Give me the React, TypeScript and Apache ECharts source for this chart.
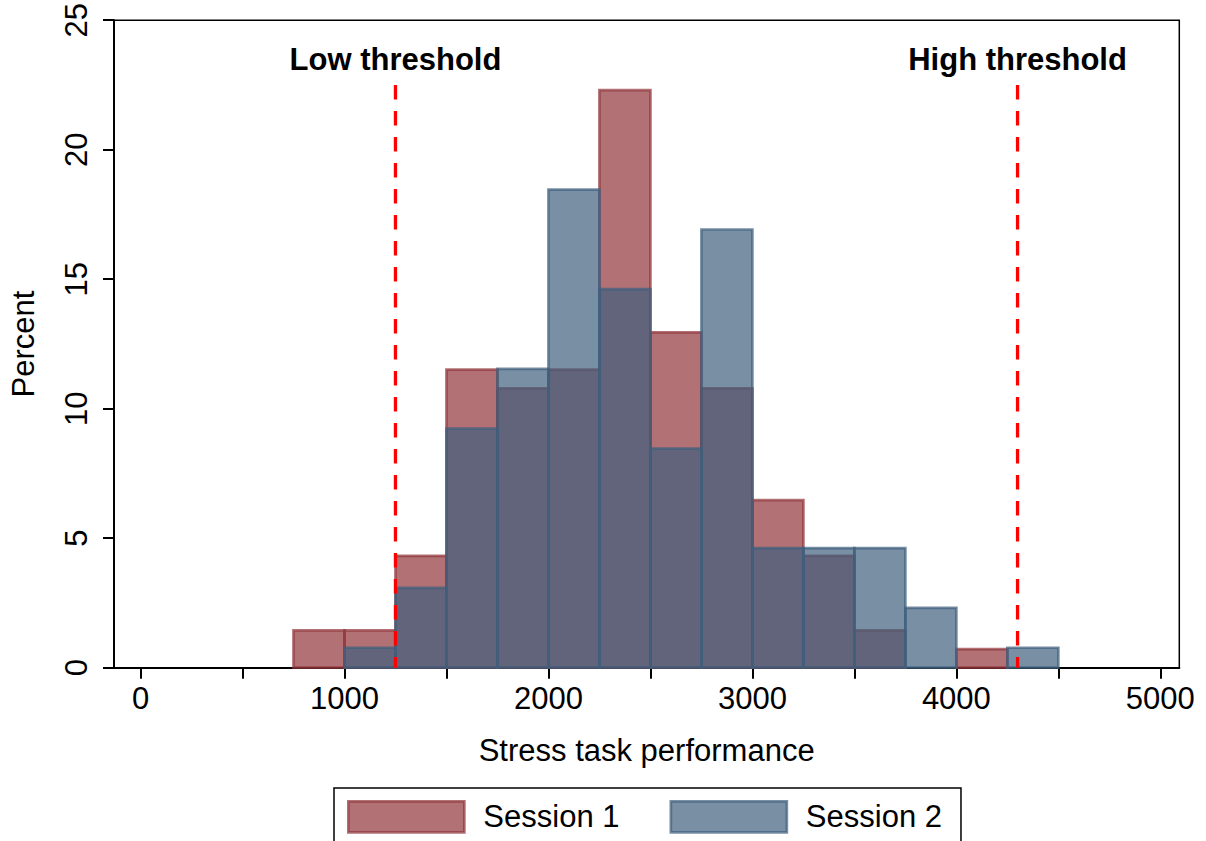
import React, { useEffect, useRef } from "react";
import * as echarts from "echarts";

// ---- data ----
const binStarts = [750, 1000, 1250, 1500, 1750, 2000, 2250, 2500, 2750, 3000, 3250, 3500, 3750, 4000, 4250];
const binWidth = 250;
const session1 = [1.44, 1.44, 4.32, 11.51, 10.79, 11.51, 22.3, 12.95, 10.79, 6.47, 4.32, 1.44, 0, 0.72, 0];
const session2 = [0, 0.77, 3.08, 9.23, 11.54, 18.46, 14.62, 8.46, 16.92, 4.62, 4.62, 4.62, 2.31, 0, 0.77];
const seriesNames = ["Session 1", "Session 2"];
const thresholds = [1250, 4300];
const thresholdLabels = ["Low threshold", "High threshold"];
const thresholdTop = 22.5;
const thresholdLabelY = 23.5;
const xTickValues = [0, 500, 1000, 1500, 2000, 2500, 3000, 3500, 4000, 4500, 5000];
const xLabelValues = [0, 1000, 2000, 3000, 4000, 5000];
const yTickValues = [0, 5, 10, 15, 20, 25];

const FONT = "'Liberation Sans', Arial, Helvetica, sans-serif";
const fills = ["rgba(144,53,59,0.7)", "rgba(62,95,125,0.7)"];
const strokes = ["rgba(144,53,59,0.7)", "rgba(62,95,125,0.7)"];
const BORDER = 2.7;

function histSeries(name: string, values: number[], idx: number) {
  return {
    name,
    type: "custom",
    data: binStarts.map((s, i) => [s, s + binWidth, values[i]]),
    encode: { x: [0, 1], y: 2 },
    itemStyle: { color: fills[idx], borderColor: strokes[idx], borderWidth: BORDER },
    silent: true,
    z: 2 + idx,
    renderItem: (params: any, api: any) => {
      const start = api.value(0);
      const end = api.value(1);
      const v = api.value(2);
      if (!v) return null;
      const p0 = api.coord([start, v]);
      const p1 = api.coord([end, 0]);
      return {
        type: "rect",
        shape: { x: p0[0], y: p0[1], width: p1[0] - p0[0], height: p1[1] - p0[1] },
        style: { fill: fills[idx], stroke: strokes[idx], lineWidth: BORDER },
      };
    },
  };
}

export default function App() {
  const ref = useRef<HTMLDivElement>(null);
  useEffect(() => {
    if (!ref.current) return;
    const chart = echarts.init(ref.current, undefined, { renderer: "svg" });
    const option: any = {
      animation: false,
      textStyle: { fontFamily: FONT, color: "#000" },
      grid: {
        left: 113.5,
        right: 26.7,
        top: 20,
        bottom: 173.3,
        show: true,
        borderColor: "#000",
        borderWidth: 1.5,
        backgroundColor: "transparent",
      },
      legend: {
        data: seriesNames.map((n, i) => ({
          name: n,
          icon: "rect",
          itemStyle: { color: fills[i], borderColor: strokes[i], borderWidth: BORDER },
        })),
        left: 334,
        top: 788,
        orient: "horizontal",
        padding: [12, 19, 12, 13],
        itemWidth: 116,
        itemHeight: 31,
        itemGap: 50,
        borderColor: "#000",
        borderWidth: 1.5,
        textStyle: { fontSize: 31, color: "#000", fontFamily: FONT, padding: [0, 0, 0, 14] },
        selectedMode: false,
      },
      xAxis: {
        type: "value",
        min: -130,
        max: 5093,
        name: "Stress task performance",
        nameLocation: "middle",
        nameGap: 67,
        nameTextStyle: { fontSize: 31, color: "#000", fontFamily: FONT },
        axisLine: { show: true, onZero: false, lineStyle: { color: "#000", width: 2 } },
        axisTick: { show: true, length: 11, lineStyle: { color: "#000", width: 2 }, customValues: xTickValues },
        axisLabel: {
          fontSize: 31,
          color: "#000",
          margin: 15,
          customValues: xLabelValues,
          fontFamily: FONT,
          formatter: (v: number) => String(v),
        },
        splitLine: { show: false },
      },
      yAxis: {
        type: "value",
        min: 0,
        max: 25,
        interval: 5,
        name: "Percent",
        nameLocation: "middle",
        nameGap: 75,
        nameTextStyle: { fontSize: 31, color: "#000", fontFamily: FONT },
        axisLine: { show: true, onZero: false, lineStyle: { color: "#000", width: 2 } },
        axisTick: { show: true, length: 11, lineStyle: { color: "#000", width: 2 }, customValues: yTickValues },
        axisLabel: {
          fontSize: 31,
          color: "#000",
          margin: 22,
          rotate: 90,
          fontFamily: FONT,
          customValues: yTickValues,
          formatter: (v: number) => String(v),
        },
        splitLine: { show: false },
      },
      series: [
        histSeries(seriesNames[0], session1, 0),
        histSeries(seriesNames[1], session2, 1),
        ...thresholds.map((t) => ({
          type: "line",
          data: [
            [t, thresholdTop],
            [t, 0],
          ],
          symbol: "none",
          silent: true,
          z: 5,
          lineStyle: { color: "#ff0000", width: 3.3, type: [14.5, 11.5] },
        })),
        {
          type: "scatter",
          data: thresholds.map((t, i) => ({ value: [t, thresholdLabelY], name: thresholdLabels[i] })),
          symbolSize: 1,
          silent: true,
          itemStyle: { color: "rgba(0,0,0,0)", opacity: 1 },
          label: {
            show: true,
            position: "inside",
            formatter: "{b}",
            fontSize: 31,
            fontWeight: "bold",
            color: "#000",
            opacity: 1,
            textBorderWidth: 0,
            fontFamily: FONT,
          },
        },
      ],
    };
    chart.setOption(option);
    return () => chart.dispose();
  }, []);
  return (
    <div
      ref={ref}
      style={{ position: "absolute", left: 0, top: 0, width: 1206, height: 841, background: "#fff" }}
    />
  );
}
